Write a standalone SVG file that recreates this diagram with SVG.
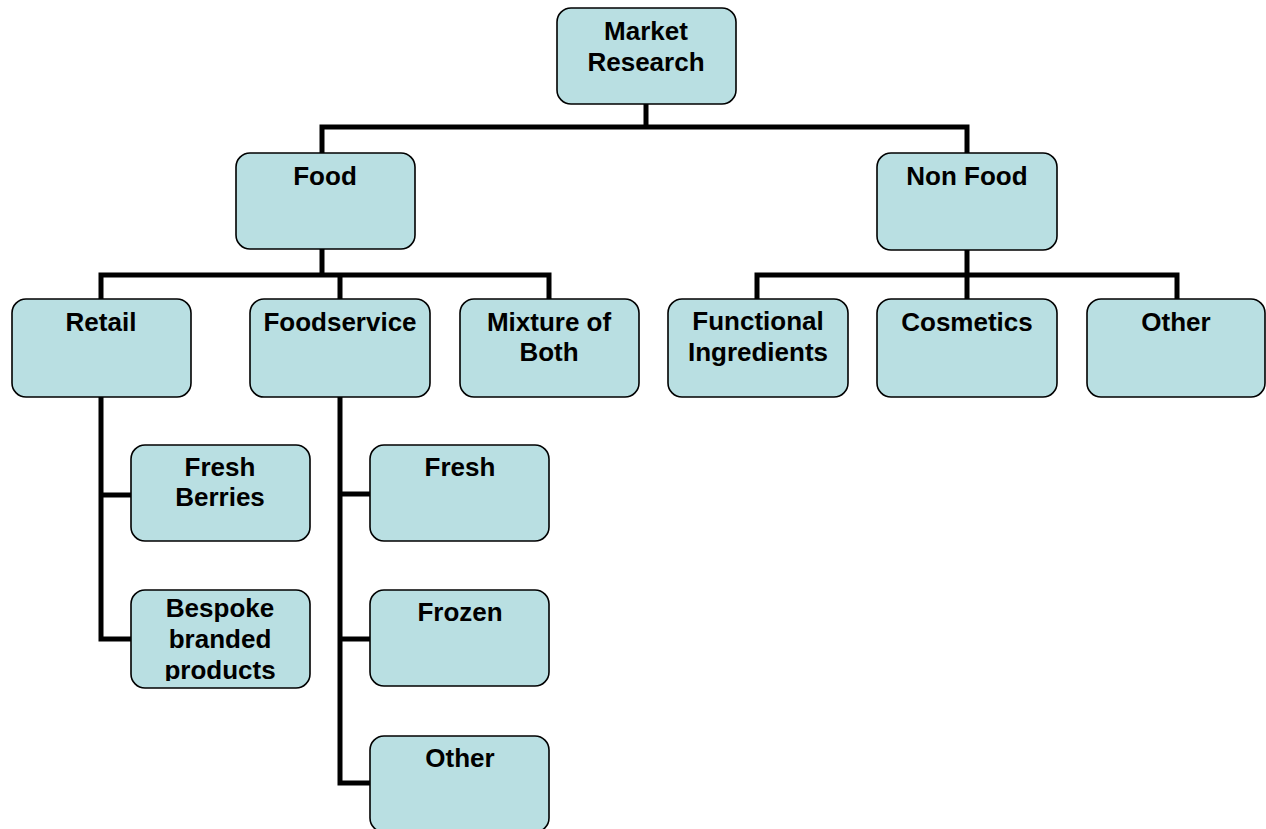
<svg xmlns="http://www.w3.org/2000/svg" width="1266" height="829" viewBox="0 0 1266 829">
  <style>
    .box { fill: #b9dfe2; stroke: #000; stroke-width: 1.6; }
    .lbl { font-family: "Liberation Sans", Arial, sans-serif; font-weight: bold; font-size: 26px; fill: #000; text-anchor: middle; }
    .wire { fill: none; stroke: #000; stroke-width: 5; stroke-linejoin: miter; stroke-linecap: butt; }
  </style>
  <defs>
    <clipPath id="bespokeClip"><rect x="131" y="590" width="179" height="91"/></clipPath>
  </defs>
  <rect width="1266" height="829" fill="#fff"/>

  <g id="connectors">
    <path class="wire" d="M646,104 V127 M322,153 V127 H967 V153"/>
    <path class="wire" d="M322,249 V275 M101,299 V275 H549 V299 M340,275 V299"/>
    <path class="wire" d="M967,250 V275 M757,299 V275 H1177 V299 M967,275 V299"/>
    <path class="wire" d="M101,397 V639 H131 M101,495 H131"/>
    <path class="wire" d="M340,397 V783 H370 M340,494 H370 M340,639 H370"/>
  </g>

  <g id="market-research">
    <rect class="box" x="557" y="8" width="179" height="96" rx="14"/>
    <text class="lbl" x="646" y="40">Market</text>
    <text class="lbl" x="646" y="71">Research</text>
  </g>
  <g id="food">
    <rect class="box" x="236" y="153" width="179" height="96" rx="14"/>
    <text class="lbl" x="325" y="185">Food</text>
  </g>
  <g id="non-food">
    <rect class="box" x="877" y="153" width="180" height="97" rx="14"/>
    <text class="lbl" x="967" y="185">Non Food</text>
  </g>
  <g id="retail">
    <rect class="box" x="12" y="299" width="179" height="98" rx="14"/>
    <text class="lbl" x="101" y="331">Retail</text>
  </g>
  <g id="foodservice">
    <rect class="box" x="250" y="299" width="180" height="98" rx="14"/>
    <text class="lbl" x="340" y="331">Foodservice</text>
  </g>
  <g id="mixture">
    <rect class="box" x="460" y="299" width="179" height="98" rx="14"/>
    <text class="lbl" x="549" y="331">Mixture of</text>
    <text class="lbl" x="549" y="361">Both</text>
  </g>
  <g id="functional">
    <rect class="box" x="668" y="299" width="180" height="98" rx="14"/>
    <text class="lbl" x="758" y="330">Functional</text>
    <text class="lbl" x="758" y="361">Ingredients</text>
  </g>
  <g id="cosmetics">
    <rect class="box" x="877" y="299" width="180" height="98" rx="14"/>
    <text class="lbl" x="967" y="331">Cosmetics</text>
  </g>
  <g id="nonfood-other">
    <rect class="box" x="1087" y="299" width="178" height="98" rx="14"/>
    <text class="lbl" x="1176" y="331">Other</text>
  </g>
  <g id="fresh-berries">
    <rect class="box" x="131" y="445" width="179" height="96" rx="14"/>
    <text class="lbl" x="220" y="476">Fresh</text>
    <text class="lbl" x="220" y="506">Berries</text>
  </g>
  <g id="bespoke">
    <rect class="box" x="131" y="590" width="179" height="98" rx="14"/>
    <g clip-path="url(#bespokeClip)">
      <text class="lbl" x="220" y="617">Bespoke</text>
      <text class="lbl" x="220" y="648">branded</text>
      <text class="lbl" x="220" y="679">products</text>
    </g>
  </g>
  <g id="fresh">
    <rect class="box" x="370" y="445" width="179" height="96" rx="14"/>
    <text class="lbl" x="460" y="476">Fresh</text>
  </g>
  <g id="frozen">
    <rect class="box" x="370" y="590" width="179" height="96" rx="14"/>
    <text class="lbl" x="460" y="621">Frozen</text>
  </g>
  <g id="foodservice-other">
    <rect class="box" x="370" y="736" width="179" height="96" rx="14"/>
    <text class="lbl" x="460" y="767">Other</text>
  </g>
</svg>
